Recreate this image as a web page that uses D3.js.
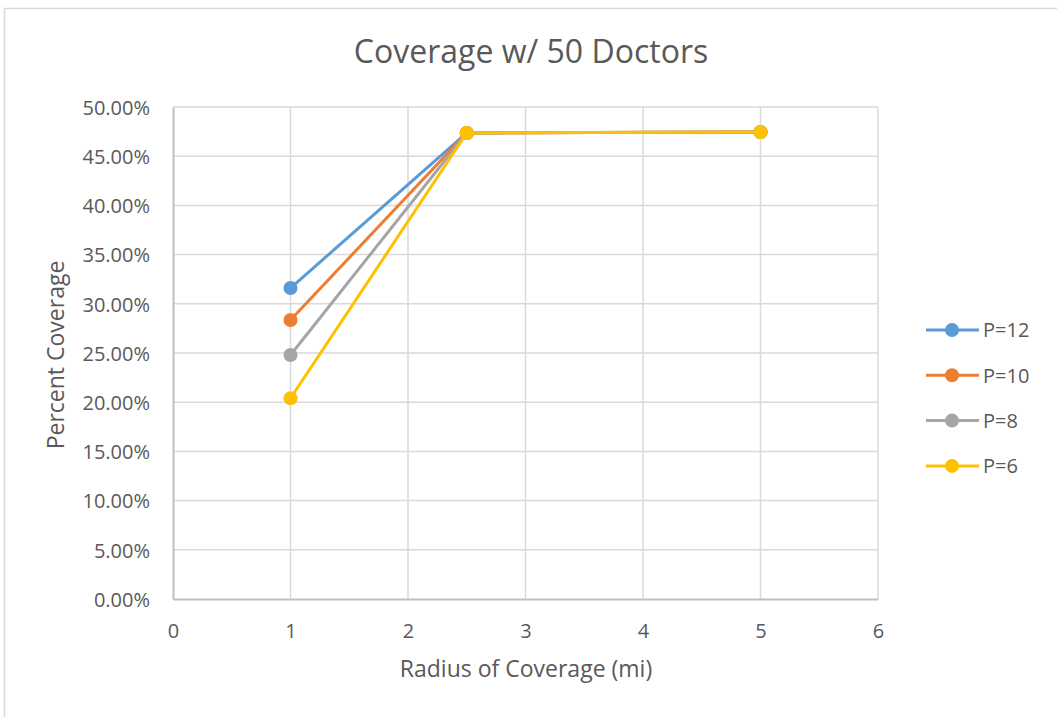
<!DOCTYPE html>
<html><head><meta charset="utf-8">
<script src="https://cdn.jsdelivr.net/npm/d3@7"></script>
<style>body{margin:0;background:#fff;}svg{display:block;}text{font-family:"Open Sans",sans-serif;fill:#595959;}</style>
</head><body>
<svg id="c" width="1057" height="717"></svg>
<script>
const xValues = [1, 2.5, 5];
const seriesNames = ["P=12", "P=10", "P=8", "P=6"];
const p12 = [0.316, 0.4736, 0.4745];
const p10 = [0.2835, 0.4736, 0.4745];
const p8 = [0.248, 0.4736, 0.4745];
const p6 = [0.204, 0.4736, 0.4745];
const seriesColors = ["#5b9bd5", "#ed7d31", "#a5a5a5", "#ffc000"];
const xTicks = [0, 1, 2, 3, 4, 5, 6];
const yTicks = [0, 0.05, 0.1, 0.15, 0.2, 0.25, 0.3, 0.35, 0.4, 0.45, 0.5];
const title = "Coverage w/ 50 Doctors";
const xTitle = "Radius of Coverage (mi)";
const yTitle = "Percent Coverage";

const series = [p12, p10, p8, p6];
const svg = d3.select("#c");
svg.append("rect").attr("x",4.5).attr("y",8.5).attr("width",1070).attr("height",720)
  .attr("fill","#fff").attr("stroke","#d9d9d9").attr("stroke-width",1.5);

const L=173, R=878, T=107, B=599;
const x = d3.scaleLinear().domain([0,6]).range([L,R]);
const y = d3.scaleLinear().domain([0,0.5]).range([B,T]);

// gridlines
const g = svg.append("g");
g.selectAll(".hg").data(yTicks.slice(1)).join("line")
  .attr("x1",L).attr("x2",R).attr("y1",d=>y(d)).attr("y2",d=>y(d))
  .attr("stroke","#d9d9d9").attr("stroke-width",1.5);
g.selectAll(".vg").data(xTicks.slice(1)).join("line")
  .attr("y1",T).attr("y2",B).attr("x1",d=>x(d)).attr("x2",d=>x(d))
  .attr("stroke","#d9d9d9").attr("stroke-width",1.5);

// axes
const yAxis = d3.axisLeft(y).tickValues(yTicks).tickFormat(d3.format(".2%")).tickSize(0).tickPadding(23);
const ya = svg.append("g").attr("transform",`translate(${L},0)`).call(yAxis);
ya.select(".domain").attr("stroke","#bfbfbf").attr("stroke-width",2);
ya.selectAll("text").style("font-size","20px").attr("fill","#595959").attr("dy","0.36em");

const xAxis = d3.axisBottom(x).tickValues(xTicks).tickFormat(d3.format("d")).tickSize(0);
const xa = svg.append("g").attr("transform",`translate(0,${B})`).call(xAxis);
xa.select(".domain").attr("stroke","#bfbfbf").attr("stroke-width",2);
xa.selectAll("text").style("font-size","20px").attr("fill","#595959").attr("y",39).attr("dy",0);

// lines
const line = d3.line().x((d,i)=>x(xValues[i])).y(d=>y(d));
series.forEach((s,k)=>{
  svg.append("path").datum(s).attr("d",line).attr("fill","none")
    .attr("stroke",seriesColors[k]).attr("stroke-width",3).attr("stroke-linejoin","round");
  svg.selectAll(null).data(s).join("circle")
    .attr("cx",(d,i)=>x(xValues[i])).attr("cy",d=>y(d)).attr("r",7)
    .attr("fill",seriesColors[k]);
});

// titles
svg.append("text").attr("x",531).attr("y",63).attr("text-anchor","middle")
  .style("font-size","32px").text(title);
svg.append("text").attr("x",526).attr("y",677).attr("text-anchor","middle")
  .style("font-size","23px").text(xTitle);
svg.append("text").attr("transform","translate(64,355) rotate(-90)").attr("text-anchor","middle")
  .style("font-size","23px").text(yTitle);

// legend
const lg = svg.append("g");
seriesNames.forEach((n,k)=>{
  const yy = 330 + k*45.3;
  lg.append("line").attr("x1",926).attr("x2",979).attr("y1",yy).attr("y2",yy)
    .attr("stroke",seriesColors[k]).attr("stroke-width",3);
  lg.append("circle").attr("cx",952).attr("cy",yy).attr("r",7).attr("fill",seriesColors[k]);
  lg.append("text").attr("x",983).attr("y",yy).attr("dy","0.36em").style("font-size","20px").text(n);
});
</script>
</body></html>
